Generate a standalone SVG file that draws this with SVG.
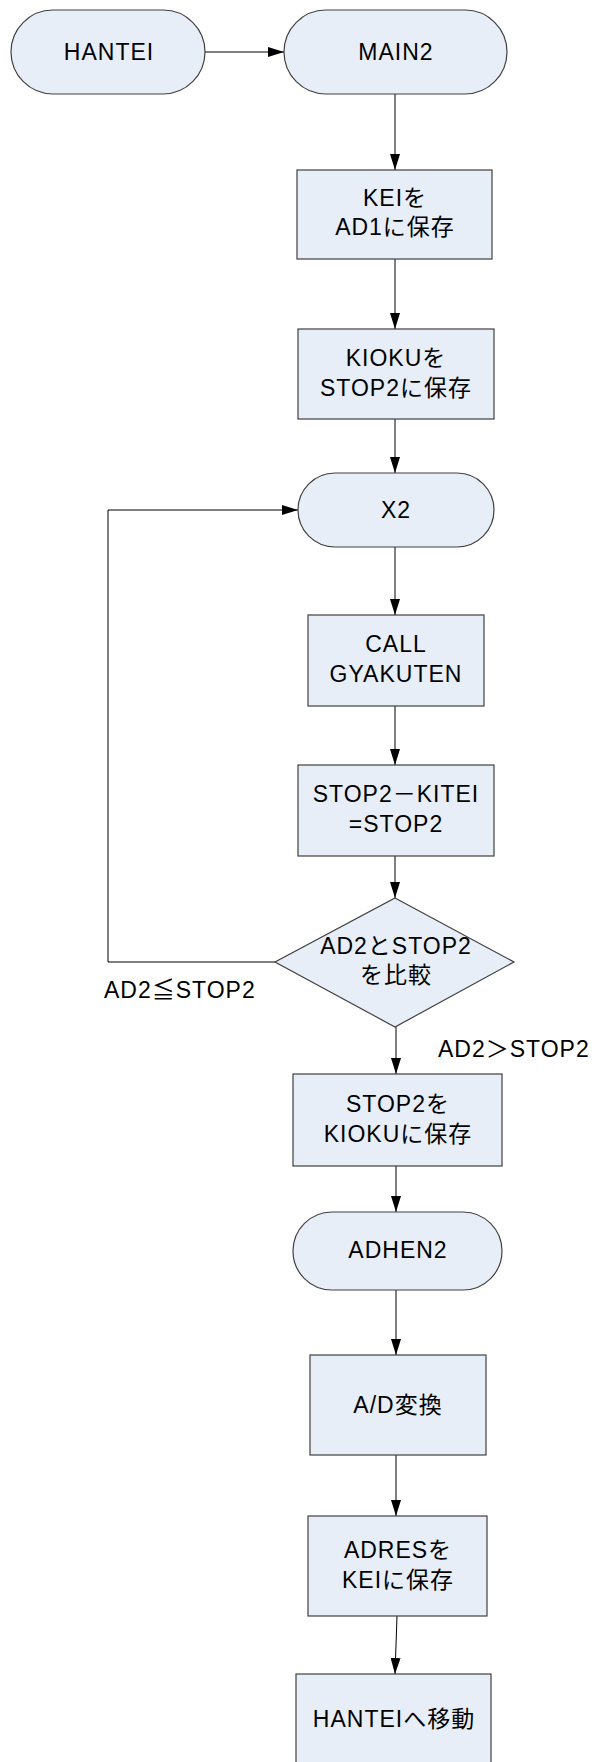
<svg xmlns="http://www.w3.org/2000/svg" width="600" height="1762" viewBox="0 0 600 1762">
  <style>
    .node { fill: #E8EEF7; stroke: #404040; stroke-width: 1.2; }
    .lbl { font-family: "Liberation Sans", "Noto Sans CJK JP", sans-serif; font-size: 23px; letter-spacing: 1px; fill: #000; text-anchor: middle; }
    .cond { font-family: "Liberation Sans", "Noto Sans CJK JP", sans-serif; font-size: 23px; letter-spacing: 1px; fill: #000; }
    .wire { fill: none; stroke: #000; stroke-width: 1; }
  </style>
  <defs>
    <marker id="arrow" viewBox="0 0 16 10" refX="16" refY="5" markerWidth="16" markerHeight="10" markerUnits="userSpaceOnUse" orient="auto">
      <path d="M0,0 L16,5 L0,10 Z" fill="#000"/>
    </marker>
  </defs>

  <rect width="600" height="1762" fill="#fff"/>

  <!-- connectors -->
  <g id="connectors">
    <line class="wire" x1="205" y1="52" x2="284" y2="52" marker-end="url(#arrow)"/>
    <line class="wire" x1="395" y1="94" x2="395" y2="170" marker-end="url(#arrow)"/>
    <line class="wire" x1="395" y1="259" x2="395" y2="329" marker-end="url(#arrow)"/>
    <line class="wire" x1="395" y1="419" x2="395" y2="473" marker-end="url(#arrow)"/>
    <line class="wire" x1="395" y1="547" x2="395" y2="615" marker-end="url(#arrow)"/>
    <line class="wire" x1="395" y1="706" x2="395" y2="765" marker-end="url(#arrow)"/>
    <line class="wire" x1="395" y1="856" x2="395" y2="898" marker-end="url(#arrow)"/>
    <line class="wire" x1="396" y1="1027" x2="396" y2="1074" marker-end="url(#arrow)"/>
    <line class="wire" x1="396" y1="1166" x2="396" y2="1212" marker-end="url(#arrow)"/>
    <line class="wire" x1="396" y1="1290" x2="396" y2="1355" marker-end="url(#arrow)"/>
    <line class="wire" x1="396" y1="1455" x2="396" y2="1516" marker-end="url(#arrow)"/>
    <line class="wire" x1="397" y1="1616" x2="395" y2="1674" marker-end="url(#arrow)"/>
    <!-- loop back to X2 -->
    <polyline class="wire" points="275,962 108,962 108,510 298,510" marker-end="url(#arrow)"/>
    <text class="cond" x="104" y="998">AD2≦STOP2</text>
    <text class="cond" x="438" y="1057">AD2＞STOP2</text>
  </g>

  <g id="hantei">
    <rect class="node" x="11" y="10" width="194" height="84" rx="42" ry="42"/>
    <text class="lbl" x="109" y="60">HANTEI</text>
  </g>

  <g id="main2">
    <rect class="node" x="284" y="10" width="223" height="84" rx="42" ry="42"/>
    <text class="lbl" x="396" y="60">MAIN2</text>
  </g>

  <g id="save-kei">
    <rect class="node" x="297" y="170" width="195" height="89"/>
    <text class="lbl" x="395" y="206">KEIを</text>
    <text class="lbl" x="395" y="235">AD1に保存</text>
  </g>

  <g id="save-kioku">
    <rect class="node" x="298" y="329" width="196" height="90"/>
    <text class="lbl" x="396" y="366">KIOKUを</text>
    <text class="lbl" x="396" y="396">STOP2に保存</text>
  </g>

  <g id="x2">
    <rect class="node" x="298" y="473" width="196" height="74" rx="37" ry="37"/>
    <text class="lbl" x="396" y="518">X2</text>
  </g>

  <g id="call-gyakuten">
    <rect class="node" x="308" y="615" width="176" height="91"/>
    <text class="lbl" x="396" y="652">CALL</text>
    <text class="lbl" x="396" y="682">GYAKUTEN</text>
  </g>

  <g id="stop2-kitei">
    <rect class="node" x="298" y="765" width="196" height="91"/>
    <text class="lbl" x="396" y="802">STOP2－KITEI</text>
    <text class="lbl" x="396" y="832">=STOP2</text>
  </g>

  <g id="compare">
    <polygon class="node" points="395,898 514,962 395,1027 275,962"/>
    <text class="lbl" x="396" y="954">AD2とSTOP2</text>
    <text class="lbl" x="396" y="983">を比較</text>
  </g>

  <g id="save-stop2">
    <rect class="node" x="293" y="1074" width="209" height="92"/>
    <text class="lbl" x="398" y="1112">STOP2を</text>
    <text class="lbl" x="398" y="1142">KIOKUに保存</text>
  </g>

  <g id="adhen2">
    <rect class="node" x="293" y="1212" width="209" height="78" rx="39" ry="39"/>
    <text class="lbl" x="398" y="1258">ADHEN2</text>
  </g>

  <g id="ad-convert">
    <rect class="node" x="310" y="1355" width="176" height="100"/>
    <text class="lbl" x="398" y="1413">A/D変換</text>
  </g>

  <g id="save-adres">
    <rect class="node" x="308" y="1516" width="179" height="100"/>
    <text class="lbl" x="398" y="1558">ADRESを</text>
    <text class="lbl" x="398" y="1588">KEIに保存</text>
  </g>

  <g id="goto-hantei">
    <rect class="node" x="296" y="1674" width="195" height="94"/>
    <text class="lbl" x="394" y="1727">HANTEIへ移動</text>
  </g>
</svg>
